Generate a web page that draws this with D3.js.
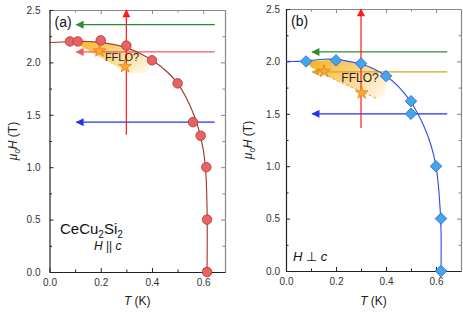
<!DOCTYPE html>
<html lang="en">
<head>
<meta charset="UTF-8">
<title>CeCu2Si2 H-T phase diagram</title>
<script src="https://d3js.org/d3.v7.min.js"></script>
<style>
  body { margin: 0; background: #fff; }
  svg { font-family: Arial, "Liberation Sans", sans-serif; display: block; }
  .tick text { font-size: 10px; fill: #333; }
</style>
</head>
<body>
<svg width="463" height="312"></svg>
<script>
// ---- data ----
// panel (a): H || c
const tA = [0.08, 0.11, 0.2, 0.3, 0.4, 0.5, 0.56, 0.59, 0.612, 0.615, 0.615];
const hA = [2.2, 2.2, 2.21, 2.16, 2.02, 1.8, 1.43, 1.3, 1.0, 0.5, 0.0];
const fitTA = [0, 0.05, 0.1, 0.15, 0.2, 0.25, 0.3, 0.35, 0.4, 0.45, 0.5, 0.55, 0.58, 0.6, 0.61, 0.615, 0.615];
const fitHA = [2.19, 2.195, 2.2, 2.2, 2.19, 2.17, 2.14, 2.09, 2.02, 1.93, 1.8, 1.58, 1.38, 1.17, 0.95, 0.6, 0.0];
const starTA = [0.195, 0.295];
const starHA = [2.11, 1.96];
const ffloTA = [0.1, 0.2, 0.3, 0.35, 0.38, 0.385, 0.36, 0.3, 0.2, 0.12];
const ffloHA = [2.2, 2.2, 2.15, 2.09, 2.02, 1.93, 1.9, 1.91, 2.05, 2.16];
// horizontal arrows: field, colour
const arrowHA = [2.36, 2.10, 1.43];
const arrowColA = ["#2e8b2e", "#f25a5a", "#2233ee"];

// panel (b): H perp c
const tB = [0.08, 0.2, 0.3, 0.4, 0.5, 0.5, 0.6, 0.62, 0.62];
const hB = [2.0, 2.01, 1.98, 1.86, 1.62, 1.5, 1.0, 0.5, 0.0];
const fitTB = [0, 0.05, 0.1, 0.15, 0.2, 0.25, 0.3, 0.35, 0.4, 0.45, 0.5, 0.55, 0.58, 0.6, 0.612, 0.62, 0.62];
const fitHB = [2.0, 2.0, 2.01, 2.02, 2.02, 2.0, 1.975, 1.93, 1.86, 1.76, 1.61, 1.39, 1.2, 1.0, 0.75, 0.4, 0.0];
const starTB = [0.152, 0.303];
const starHB = [1.905, 1.70];
const ffloTB = [0.09, 0.2, 0.3, 0.36, 0.395, 0.395, 0.38, 0.36, 0.2, 0.1];
const ffloHB = [2.0, 2.01, 1.97, 1.92, 1.85, 1.7, 1.66, 1.65, 1.82, 1.95];
const arrowHB = [2.09, 1.90, 1.50];
const arrowColB = ["#2e8b2e", "#d9a520", "#2233ee"];

const xTicks = [0, 0.2, 0.4, 0.6];
const yTicks = [0, 0.5, 1.0, 1.5, 2.0, 2.5];
const xMinor = [0.1, 0.3, 0.5];
const yMinor = [0.25, 0.75, 1.25, 1.75, 2.25];

const svg = d3.select("svg");
svg.append("rect").attr("width", 463).attr("height", 312).attr("fill", "#fff");
const defs = svg.append("defs");

// arrow markers
function marker(id, col) {
  defs.append("marker")
    .attr("id", id)
    .attr("viewBox", "0 0 10 10")
    .attr("refX", 9).attr("refY", 5)
    .attr("markerWidth", 10).attr("markerHeight", 8)
    .attr("markerUnits", "userSpaceOnUse")
    .attr("orient", "auto")
    .append("path").attr("d", "M0,0 L10,5 L0,10 Z").attr("fill", col);
}

// fflo gradients
function grad(id, c1, c2) {
  const g = defs.append("linearGradient").attr("id", id)
    .attr("x1", "0%").attr("y1", "20%").attr("x2", "100%").attr("y2", "80%");
  g.append("stop").attr("offset", "0%").attr("stop-color", c1);
  g.append("stop").attr("offset", "100%").attr("stop-color", c2);
}
grad("gA", "#f6b834", "#fff4dc");
grad("gB", "#f4b52a", "#fff6e2");

function drawPanel(p) {
  const x = d3.scaleLinear().domain(p.xDomain).range(p.xRange);
  const y = d3.scaleLinear().domain([0, 2.5]).range(p.yRange);
  const g = svg.append("g");
  const [x0, x1] = p.xRange, [y0, y1] = p.yRange;

  // FFLO region
  const area = d3.line().x(d => x(d[0])).y(d => y(d[1])).curve(d3.curveCardinalClosed.tension(0.3));
  g.append("path")
    .attr("d", area(d3.zip(p.ffloT, p.ffloH)))
    .attr("fill", `url(#${p.grad})`);
  if (p.dashed) {
    const dl = d3.line().x(d => x(d[0])).y(d => y(d[1]));
    g.append("path")
      .attr("d", dl([[p.ffloT[7], p.ffloH[7]], [p.ffloT[8], p.ffloH[8]], [p.ffloT[9], p.ffloH[9]]]))
      .attr("fill", "none").attr("stroke", "#f0a030").attr("stroke-width", 1)
      .attr("stroke-dasharray", "3,2");
  }

  // frame top/right with inward ticks
  g.append("g").attr("transform", `translate(0,${y1})`)
    .call(d3.axisTop(x).tickValues(xTicks).tickSize(-4).tickSizeOuter(0).tickFormat(""))
    .call(a => a.selectAll("path,line").attr("stroke", "#888"));
  g.append("g").attr("transform", `translate(0,${y1})`)
    .call(d3.axisTop(x).tickValues(xMinor).tickSize(-2.5).tickSizeOuter(0).tickFormat(""))
    .call(a => a.select(".domain").remove())
    .call(a => a.selectAll("line").attr("stroke", "#888"));
  g.append("g").attr("transform", `translate(${x1},0)`)
    .call(d3.axisRight(y).tickValues(yTicks).tickSize(-4).tickSizeOuter(0).tickFormat(""))
    .call(a => a.selectAll("path,line").attr("stroke", "#888"));
  g.append("g").attr("transform", `translate(${x1},0)`)
    .call(d3.axisRight(y).tickValues(yMinor).tickSize(-2.5).tickSizeOuter(0).tickFormat(""))
    .call(a => a.select(".domain").remove())
    .call(a => a.selectAll("line").attr("stroke", "#888"));

  // bottom / left axes
  g.append("g").attr("transform", `translate(0,${y0})`)
    .call(d3.axisBottom(x).tickValues(xTicks).tickSize(-4).tickSizeOuter(0).tickPadding(7).tickFormat(d3.format(".1f")))
    .call(a => a.selectAll("path,line").attr("stroke", "#222"));
  g.append("g").attr("transform", `translate(0,${y0})`)
    .call(d3.axisBottom(x).tickValues(xMinor).tickSize(-2.5).tickSizeOuter(0).tickFormat(""))
    .call(a => a.select(".domain").remove())
    .call(a => a.selectAll("line").attr("stroke", "#222"));
  g.append("g").attr("transform", `translate(${x0},0)`)
    .call(d3.axisLeft(y).tickValues(yTicks).tickSize(-4).tickSizeOuter(0).tickPadding(p.yPad).tickFormat(d3.format(".1f")))
    .call(a => a.selectAll("path,line").attr("stroke", "#222"));
  g.append("g").attr("transform", `translate(${x0},0)`)
    .call(d3.axisLeft(y).tickValues(yMinor).tickSize(-2.5).tickSizeOuter(0).tickFormat(""))
    .call(a => a.select(".domain").remove())
    .call(a => a.selectAll("line").attr("stroke", "#222"));
  g.selectAll(".domain").attr("stroke-width", 1.2);

  // horizontal arrows
  p.arrowH.forEach((h, i) => {
    g.append("line")
      .attr("x1", x(0.645)).attr("x2", x(0.105))
      .attr("y1", y(h)).attr("y2", y(h))
      .attr("stroke", p.arrowCol[i]).attr("stroke-width", 1.2)
      .attr("marker-end", `url(#${p.id}m${i})`);
  });
  // vertical red arrow at T = 0.3
  g.append("line")
    .attr("x1", x(0.3)).attr("x2", x(0.3))
    .attr("y1", y(p.vStart)).attr("y2", y(2.5))
    .attr("stroke", "#ff1a1a").attr("stroke-width", 1.2)
    .attr("marker-end", `url(#${p.id}mv)`);

  // fit curve
  const line = d3.line().x(d => x(d[0])).y(d => y(d[1])).curve(d3.curveCatmullRom);
  g.append("path")
    .attr("d", line(d3.zip(p.fitT, p.fitH)))
    .attr("fill", "none").attr("stroke", p.curveCol).attr("stroke-width", 1.1);

  // stars
  g.selectAll(".star").data(d3.zip(p.starT, p.starH)).join("path")
    .attr("transform", d => `translate(${x(d[0])},${y(d[1])})`)
    .attr("d", d3.symbol(d3.symbolStar, 50))
    .attr("fill", "#f7a833").attr("stroke", "#e8801a").attr("stroke-width", 0.8);

  // data markers
  const pts = d3.zip(p.t, p.h);
  if (p.shape === "circle") {
    g.selectAll(".pt").data(pts).join("circle")
      .attr("cx", d => x(d[0])).attr("cy", d => y(d[1])).attr("r", 4.8)
      .attr("fill", "#e66363").attr("stroke", "#b93535").attr("stroke-width", 0.8);
  } else {
    g.selectAll(".pt").data(pts).join("path")
      .attr("transform", d => `translate(${x(d[0])},${y(d[1])}) rotate(45)`)
      .attr("d", d3.symbol(d3.symbolSquare, 66))
      .attr("fill", "#45a5ea").attr("stroke", "#2a66d8").attr("stroke-width", 0.8);
  }

  // FFLO? label
  g.append("text")
    .attr("x", x(p.ffloLabel[0])).attr("y", y(p.ffloLabel[1]))
    .attr("text-anchor", "middle").attr("dy", "0.35em")
    .attr("font-size", p.ffloSize).attr("fill", "#222")
    .text("FFLO?");

  // panel letter
  g.append("text").attr("x", x0 + 5).attr("y", y1 + 17)
    .attr("font-size", 14).attr("fill", "#111").text(p.letter);

  // axis titles
  const tx = g.append("text").attr("x", (x0 + x1) / 2).attr("y", 305)
    .attr("text-anchor", "middle").attr("font-size", 12).attr("fill", "#222");
  tx.append("tspan").attr("font-style", "italic").text("T");
  tx.append("tspan").text(" (K)");

  const ty = g.append("text")
    .attr("transform", `translate(${p.yLabelX},${(y0 + y1) / 2}) rotate(-90)`)
    .attr("text-anchor", "middle").attr("font-size", 12).attr("fill", "#222");
  ty.append("tspan").attr("font-style", "italic").text("μ");
  ty.append("tspan").attr("font-size", 8).attr("dy", 3).text("0");
  ty.append("tspan").attr("font-style", "italic").attr("dy", -3).text("H");
  ty.append("tspan").text(" (T)");

  return { x, y, g };
}

const colsA = arrowColA, colsB = arrowColB;
colsA.forEach((c, i) => marker(`am${i}`, c));
colsB.forEach((c, i) => marker(`bm${i}`, c));
marker("amv", "#ff1a1a");
marker("bmv", "#ff1a1a");

const A = drawPanel({
  id: "a", letter: "(a)",
  xDomain: [0, 0.685], xRange: [49.5, 225], yRange: [272, 10], yPad: 9,
  t: tA, h: hA, fitT: fitTA, fitH: fitHA, starT: starTA, starH: starHA,
  ffloT: ffloTA, ffloH: ffloHA, grad: "gA", dashed: false,
  arrowH: arrowHA, arrowCol: colsA, vStart: 1.31,
  curveCol: "#a33030", shape: "circle",
  ffloLabel: [0.283, 2.05], ffloSize: 11, yLabelX: 17
});
const B = drawPanel({
  id: "b", letter: "(b)",
  xDomain: [0, 0.70], xRange: [286, 461], yRange: [271, 9], yPad: 6,
  t: tB, h: hB, fitT: fitTB, fitH: fitHB, starT: starTB, starH: starHB,
  ffloT: ffloTB, ffloH: ffloHB, grad: "gB", dashed: true,
  arrowH: arrowHB, arrowCol: colsB, vStart: 1.365,
  curveCol: "#3048ee", shape: "diamond",
  ffloLabel: [0.296, 1.845], ffloSize: 12, yLabelX: 252
});

// sample / field-direction labels
const ce = A.g.append("text").attr("x", 60).attr("y", 234).attr("font-size", 15).attr("fill", "#111");
ce.append("tspan").text("CeCu");
ce.append("tspan").attr("font-size", 10).attr("dy", 4).text("2");
ce.append("tspan").attr("dy", -4).text("Si");
ce.append("tspan").attr("font-size", 10).attr("dy", 4).text("2");

const pa = A.g.append("text").attr("x", 94).attr("y", 250).attr("font-size", 12).attr("fill", "#111");
pa.append("tspan").attr("font-style", "italic").text("H");
pa.append("tspan").text(" || ");
pa.append("tspan").attr("font-style", "italic").text("c");

const pb = B.g.append("text").attr("x", 293).attr("y", 261).attr("font-size", 13).attr("fill", "#111");
pb.append("tspan").attr("font-style", "italic").text("H");
pb.append("tspan").text(" ⊥ ");
pb.append("tspan").attr("font-style", "italic").text("c");
</script>
</body>
</html>
